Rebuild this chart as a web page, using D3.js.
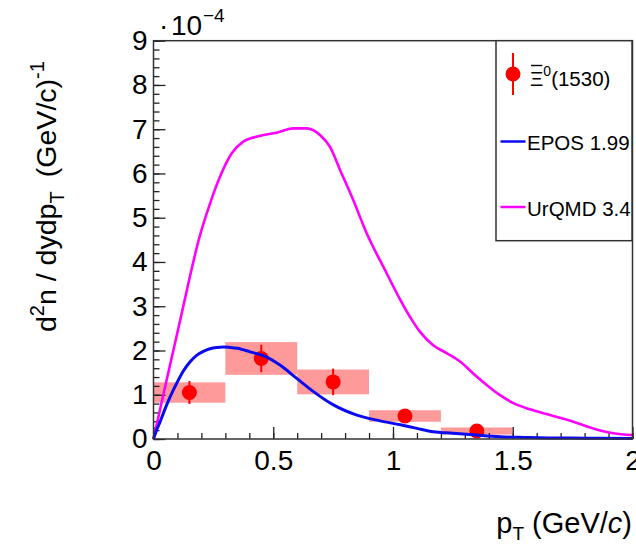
<!DOCTYPE html>
<html>
<head>
<meta charset="utf-8">
<script src="https://cdn.jsdelivr.net/npm/d3@7"></script>
<style>
  body { margin: 0; background: #fff; }
  svg { display: block; }
  text { font-family: "Liberation Sans", Arial, Helvetica, sans-serif; fill: #000; }
</style>
</head>
<body>
<svg id="chart" width="636" height="546"></svg>
<script>
// Xi(1530) spectrum, values in units of 1e-4 (GeV/c)^-1
const binCenters   = [0.15, 0.45, 0.75, 1.05, 1.35];
const binHalfWidth = [0.15, 0.15, 0.15, 0.15, 0.15];
const xiYield      = [1.05, 1.82, 1.29, 0.52, 0.18];
const statErr      = [0.26, 0.31, 0.30, 0.15, 0.08];
const sysErr       = [0.23, 0.37, 0.28, 0.13, 0.08];

// EPOS 1.99 prediction
const eposPt  = [0, 0.013, 0.027, 0.041, 0.055, 0.083, 0.097, 0.124, 0.152, 0.18, 0.208, 0.236, 0.264, 0.292, 0.319, 0.35, 0.403, 0.473, 0.528, 0.598, 0.668, 0.751, 0.849, 0.946, 1.031, 1.1, 1.168, 1.25, 1.335, 1.447, 1.55, 1.65, 1.75, 1.85, 2.0];
const eposVal = [0, 0.2, 0.38, 0.58, 0.77, 1.11, 1.26, 1.53, 1.74, 1.89, 1.98, 2.04, 2.07, 2.08, 2.07, 2.05, 1.97, 1.85, 1.67, 1.37, 1.07, 0.77, 0.54, 0.41, 0.32, 0.24, 0.165, 0.13, 0.095, 0.05, 0.035, 0.025, 0.02, 0.015, 0.01];

// UrQMD 3.4 prediction
const urqmdPt  = [0, 0.041, 0.11, 0.194, 0.236, 0.278, 0.326, 0.375, 0.445, 0.514, 0.584, 0.64, 0.695, 0.737, 0.779, 0.834, 0.886, 0.974, 1.031, 1.071, 1.113, 1.168, 1.224, 1.28, 1.335, 1.391, 1.447, 1.503, 1.572, 1.656, 1.753, 1.836, 1.92, 2.0];
const urqmdVal = [0, 1.0, 2.65, 4.6, 5.32, 5.93, 6.45, 6.72, 6.85, 6.92, 7.02, 7.02, 6.87, 6.6, 6.08, 5.4, 4.7, 3.74, 3.14, 2.76, 2.42, 2.12, 1.94, 1.75, 1.48, 1.22, 0.99, 0.81, 0.67, 0.54, 0.39, 0.24, 0.13, 0.09];

const xMajorTicks = [0, 0.5, 1, 1.5, 2];
const xMinorTicks = d3.range(0, 21).map(i => i / 10);
const yMajorTicks = [0, 1, 2, 3, 4, 5, 6, 7, 8, 9];
const yMinorTicks = d3.range(0, 46).map(i => i / 5);

const svg = d3.select("#chart");
const frameLeft = 153.5, frameRight = 632.5, frameTop = 40.7, frameBottom = 439;

const x = d3.scaleLinear().domain([0, 2]).range([frameLeft, frameRight]);
const y = d3.scaleLinear().domain([0, 9]).range([frameBottom, frameTop]);

const dataColor = "#ff0000";
const boxColor = "#ff9a9a";
const eposColor = "#0b0bf0";
const urqmdColor = "#ff00ff";
const tickFont = "28px";

// systematic uncertainty boxes
svg.append("g").selectAll("rect")
  .data(binCenters.map((c, i) => ({ c, w: binHalfWidth[i], v: xiYield[i], s: sysErr[i] })))
  .join("rect")
  .attr("x", d => x(d.c - d.w))
  .attr("width", d => x(d.c + d.w) - x(d.c - d.w))
  .attr("y", d => y(d.v + d.s))
  .attr("height", d => y(d.v - d.s) - y(d.v + d.s))
  .attr("fill", boxColor);

// axes: ticks point into the frame
const axisStyle = g => {
  g.select(".domain").remove();
  g.selectAll(".tick line").attr("stroke", "#222").attr("stroke-width", 1.3);
  g.selectAll("text").style("font-size", tickFont).attr("fill", "#000");
};

svg.append("g").attr("transform", `translate(0,${frameBottom})`)
  .call(d3.axisBottom(x).tickValues(xMinorTicks).tickSize(-6).tickFormat(""))
  .call(axisStyle);
svg.append("g").attr("transform", `translate(0,${frameBottom})`)
  .call(d3.axisBottom(x).tickValues(xMajorTicks).tickSize(-12).tickPadding(11).tickFormat(d3.format("")))
  .call(axisStyle);

svg.append("g").attr("transform", `translate(${frameLeft},0)`)
  .call(d3.axisLeft(y).tickValues(yMinorTicks).tickSize(-6).tickFormat(""))
  .call(axisStyle);
svg.append("g").attr("transform", `translate(${frameLeft},0)`)
  .call(d3.axisLeft(y).tickValues(yMajorTicks).tickSize(-12).tickPadding(6).tickFormat(d3.format("d")))
  .call(axisStyle);

// statistical error bars and markers
const pts = svg.append("g");
pts.selectAll("line")
  .data(binCenters.map((c, i) => ({ c, v: xiYield[i], e: statErr[i] })))
  .join("line")
  .attr("x1", d => x(d.c)).attr("x2", d => x(d.c))
  .attr("y1", d => y(d.v + d.e)).attr("y2", d => y(d.v - d.e))
  .attr("stroke", dataColor).attr("stroke-width", 2);
pts.selectAll("circle")
  .data(binCenters.map((c, i) => ({ c, v: xiYield[i] })))
  .join("circle")
  .attr("cx", d => x(d.c)).attr("cy", d => y(d.v))
  .attr("r", 7.5).attr("fill", dataColor);

// model curves
const line = d3.line().x(d => x(d[0])).y(d => y(d[1])).curve(d3.curveMonotoneX);
svg.append("path")
  .attr("d", line(urqmdPt.map((p, i) => [p, urqmdVal[i]])))
  .attr("fill", "none").attr("stroke", urqmdColor).attr("stroke-width", 2.6);
svg.append("path")
  .attr("d", line(eposPt.map((p, i) => [p, eposVal[i]])))
  .attr("fill", "none").attr("stroke", eposColor).attr("stroke-width", 3);

// frame
svg.append("rect")
  .attr("x", frameLeft).attr("y", frameTop)
  .attr("width", frameRight - frameLeft).attr("height", frameBottom - frameTop)
  .attr("fill", "none").attr("stroke", "#333").attr("stroke-width", 1.5);

// exponent label
svg.append("text").attr("x", 159).attr("y", 35).style("font-size", "28px").text("·");
svg.append("text").attr("x", 171).attr("y", 35).style("font-size", "28px").text("10");
svg.append("text").attr("x", 203).attr("y", 22).style("font-size", "19px").text("−4");

// axis titles
const yTitle = svg.append("text")
  .attr("transform", "translate(56,332) rotate(-90)")
  .attr("text-anchor", "start")
  .style("font-size", "28.5px");
yTitle.append("tspan").text("d");
yTitle.append("tspan").attr("dy", -12).style("font-size", "20px").text("2");
yTitle.append("tspan").attr("dy", 12).text("n / dydp");
yTitle.append("tspan").attr("dy", 8).style("font-size", "20px").text("T");
yTitle.append("tspan").attr("dy", -8).text("\u2002(GeV/c)");
yTitle.append("tspan").attr("dy", -12).style("font-size", "20px").text("-1");

const xTitle = svg.append("text")
  .attr("x", 632).attr("y", 533)
  .attr("text-anchor", "end")
  .style("font-size", "29px");
xTitle.append("tspan").text("p");
xTitle.append("tspan").attr("dy", 7).style("font-size", "19px").text("T");
xTitle.append("tspan").attr("dy", -7).text(" (GeV/");
xTitle.append("tspan").style("font-style", "italic").text("c");
xTitle.append("tspan").text(")");

// legend
const lg = svg.append("g");
lg.append("rect")
  .attr("x", 496).attr("y", frameTop).attr("width", 136).attr("height", 200)
  .attr("fill", "#fff").attr("stroke", "#333").attr("stroke-width", 1.5);

lg.append("line").attr("x1", 513).attr("x2", 513).attr("y1", 53).attr("y2", 95)
  .attr("stroke", dataColor).attr("stroke-width", 2);
lg.append("circle").attr("cx", 513).attr("cy", 74).attr("r", 7.5).attr("fill", dataColor);

const xiLabel = lg.append("text").attr("x", 530).attr("y", 86).style("font-size", "20.5px");
const xiSym = xiLabel.append("tspan").text("Ξ");
xiLabel.append("tspan").attr("dy", -10).style("font-size", "14px").text("0");
xiLabel.append("tspan").attr("dy", 10).text("(1530)");
const xiLen = xiSym.node().getComputedTextLength();
lg.append("line")
  .attr("x1", 530 + 1).attr("x2", 530 + xiLen - 1)
  .attr("y1", 65.5).attr("y2", 65.5)
  .attr("stroke", "#000").attr("stroke-width", 1.4);

lg.append("line").attr("x1", 500.5).attr("x2", 525.5).attr("y1", 141.5).attr("y2", 141.5)
  .attr("stroke", eposColor).attr("stroke-width", 2.5);
lg.append("text").attr("x", 527).attr("y", 150).style("font-size", "20.5px").text("EPOS 1.99");

lg.append("line").attr("x1", 500.5).attr("x2", 525.5).attr("y1", 207).attr("y2", 207)
  .attr("stroke", urqmdColor).attr("stroke-width", 2.5);
lg.append("text").attr("x", 527).attr("y", 215.5).style("font-size", "20.5px").text("UrQMD 3.4");
</script>
</body>
</html>
